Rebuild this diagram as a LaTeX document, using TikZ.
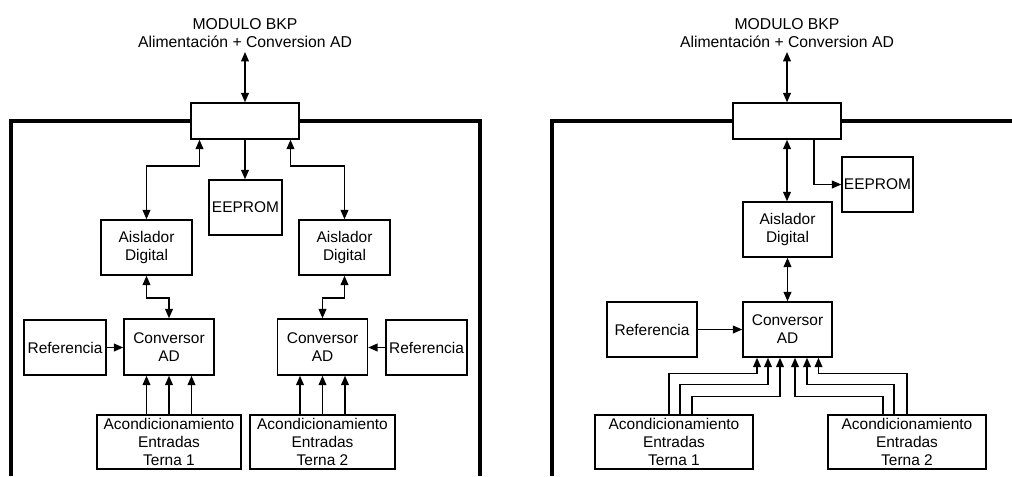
\documentclass[tikz,border=0pt]{standalone}
\usepackage{fontspec}
\setmainfont{Liberation Sans}
\usetikzlibrary{arrows.meta,calc}

\begin{document}
\begin{tikzpicture}[
  x=0.75pt, y=-0.75pt,
  blk/.style={draw, line width=1.1pt, inner sep=0pt, align=center,
    font=\fontsize{11.6}{13.4}\selectfont},
  ttl/.style={inner sep=3pt, align=center, anchor=south,
    font=\fontsize{11.8}{13.4}\selectfont},
  frame/.style={line width=2.3pt},
  tip/.tip={Triangle[length=7pt,width=5.8pt]},
  arr/.style={line width=1.1pt, -tip},
  biarrow/.style={line width=1.1pt, tip-tip}
]
\useasboundingbox (0,0) rectangle (1012,476);

% ---------- first board: two channels ----------
\node[ttl] (title1) at (245,52) {MODULO BKP\\Alimentación + Conversion AD};
\node[blk, minimum width=81pt,   minimum height=27pt]    (top1)   at (245,121)   {};
\node[blk, minimum width=54.75pt, minimum height=41.25pt] (eep1)  at (245.5,207.5) {EEPROM};
\node[blk, minimum width=68.25pt, minimum height=41.25pt] (ais1L) at (146.5,247.5) {Aislador\\Digital};
\node[blk, minimum width=68.25pt, minimum height=41.25pt] (ais1R) at (344.5,247.5) {Aislador\\Digital};
\node[blk, minimum width=67.5pt,  minimum height=42pt]    (conv1L) at (169,347)  {Conversor\\AD};
\node[blk, minimum width=67.5pt,  minimum height=42pt]    (conv1R) at (322.5,347) {Conversor\\AD};
\node[blk, minimum width=61.5pt,  minimum height=41.25pt] (ref1L) at (65,347.5)   {Referencia};
\node[blk, minimum width=60.75pt, minimum height=41.25pt] (ref1R) at (426.5,347.5) {Referencia};
\node[blk, minimum width=108pt,   minimum height=40.5pt]  (ac1)   at (169,442)    {Acondicionamiento\\Entradas\\Terna 1};
\node[blk, minimum width=108.75pt, minimum height=40.5pt] (ac2)   at (322.5,442)  {Acondicionamiento\\Entradas\\Terna 2};

\draw[frame] (11,476) |- (top1.west);
\draw[frame] (top1.east) -| (480,476);

\draw[biarrow] (title1.south) -- (top1.north);
\draw[arr] (top1.south) -- (eep1.north -| top1.south);
\draw[biarrow] ($(top1.south)+(-45.5,0)$) |- (146.5,166) -- (ais1L.north);
\draw[biarrow] ($(top1.south)+(45.5,0)$) |- (344.5,166) -- (ais1R.north);
\draw[biarrow] (ais1L.south) |- (169,298) -- (conv1L.north);
\draw[biarrow] (ais1R.south) |- (322.5,298) -- (conv1R.north);
\draw[arr] (ref1L.east) -- (ref1L.east -| conv1L.west);
\draw[arr] (ref1R.west) -- (ref1R.west -| conv1R.east);
\foreach \d in {-22.5,0,22.5}{
  \draw[arr] ($(ac1.north)+(\d,0)$) -- ($(conv1L.south)+(\d,0)$);
  \draw[arr] ($(ac2.north)+(\d,0)$) -- ($(conv1R.south)+(\d,0)$);
}

% ---------- second board: single converter ----------
\node[ttl] (title2) at (787,52) {MODULO BKP\\Alimentación + Conversion AD};
\node[blk, minimum width=81pt,    minimum height=27pt]    (top2)  at (787,121)    {};
\node[blk, minimum width=53.25pt, minimum height=41.25pt] (eep2)  at (877.5,184.5) {EEPROM};
\node[blk, minimum width=66.75pt, minimum height=41.25pt] (ais2)  at (787.5,229.5) {Aislador\\Digital};
\node[blk, minimum width=66.75pt, minimum height=41.25pt] (conv2) at (787.5,329.5) {Conversor\\AD};
\node[blk, minimum width=67.5pt,  minimum height=41.25pt] (ref2)  at (652,329.5)  {Referencia};
\node[blk, minimum width=118.5pt, minimum height=40.5pt]  (t1)    at (674,442)    {Acondicionamiento\\Entradas\\Terna 1};
\node[blk, minimum width=118.5pt, minimum height=40.5pt]  (t2)    at (907,442)    {Acondicionamiento\\Entradas\\Terna 2};

\draw[frame] (552,476) |- (top2.west);
\draw[frame] (top2.east) -- (1012,121);

\draw[biarrow] (title2.south) -- (top2.north);
\draw[biarrow] (top2.south) -- (top2.south |- ais2.north);
\draw[arr] ($(top2.south)+(27,0)$) |- (eep2.west);
\draw[biarrow] (ais2.south) -- (conv2.north);
\draw[arr] (ref2.east) -- (conv2.west);
\foreach \a/\b/\h in {-5/-30.5/16, 6/-19.5/27, 18/-7.5/39}{
  \draw[arr] ($(t1.north)+(\a,0)$) |- ($(conv2.south)+(\b,\h)$) -- ($(conv2.south)+(\b,0)$);
}
\foreach \a/\b/\h in {0/31/16, -13/19.5/27, -24/7.5/39}{
  \draw[arr] ($(t2.north)+(\a,0)$) |- ($(conv2.south)+(\b,\h)$) -- ($(conv2.south)+(\b,0)$);
}
\end{tikzpicture}
\end{document}
